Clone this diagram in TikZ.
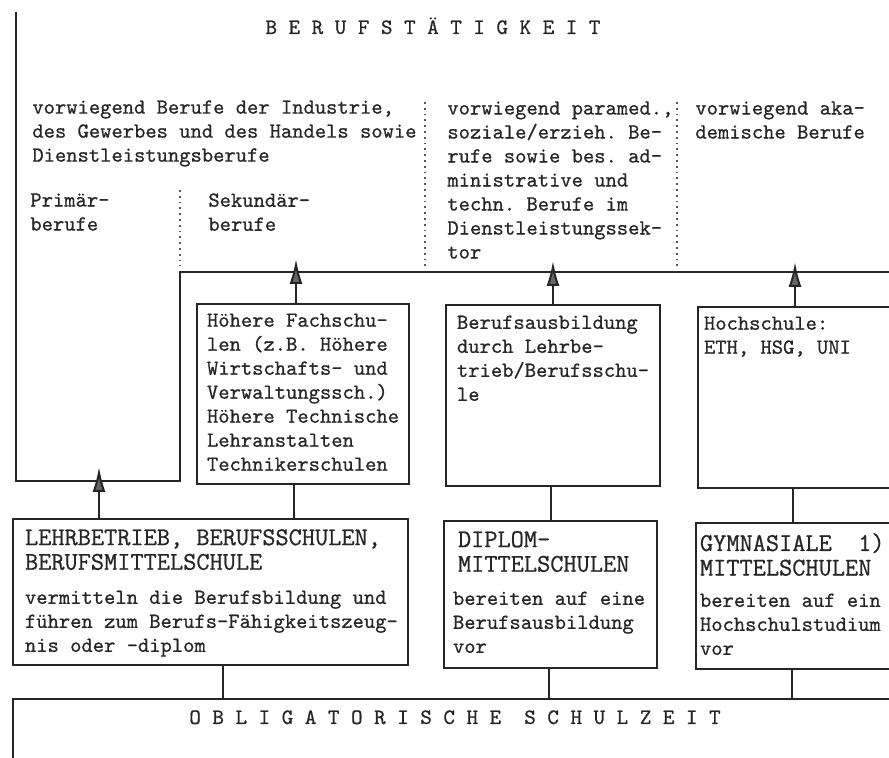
\documentclass[tikz,border=0pt]{standalone}
\usepackage{fontspec}
\setmonofont{Latin Modern Mono}[UprightFeatures={FakeBold=0.7}]
\usetikzlibrary{positioning,arrows.meta}
\newcommand{\grundschrift}{\ttfamily\fontsize{10.76}{12}\selectfont}
\newcommand{\kopfschrift}{\ttfamily\fontsize{12.8}{12.3}\selectfont}
\newcommand{\titelschrift}{\ttfamily\fontsize{11}{12}\selectfont}
\tikzset{
  linie/.style={line width=1pt, draw=black!85},
  kasten/.style={linie, rectangle, anchor=north west, inner sep=0pt},
  txt/.style={anchor=north west, inner sep=0pt, align=left, text=black!85,
    font=\grundschrift, execute at begin node=\strut},
  kopf/.style={txt, font=\kopfschrift},
  titel/.style={anchor=base, inner sep=0pt, text=black!85, font=\titelschrift},
  punkte/.style={line width=0.9pt, draw=black!65, dotted},
  pfeil/.style={linie, -{Latex[length=12.5pt,width=6.5pt,fill=black!60]}}
}
\begin{document}
\begin{tikzpicture}[x=0.5pt,y=-0.5pt]
  \useasboundingbox (0,0) rectangle (889,758);
  \clip (0,0) rectangle (889,758);
  % Berufstaetigkeit
  \node[titel] (beruf) at (433,34) {B E R U F S T Ä T I G K E I T};
  \draw[linie] (16,12) -- (16,481) -- (180,481) -- (180,272) -- (900,272);
  \node[txt] (industrie) at (32,100) {vorwiegend Berufe der Industrie,\\des Gewerbes und des Handels sowie\\Dienstleistungsberufe};
  \node[txt] (primaer) at (30,193) {Primär-\\berufe};
  \node[txt] (sekundaer) at (208,193) {Sekundär-\\berufe};
  \node[txt] (paramed) at (447,101) {vorwiegend paramed.,\\soziale/erzieh. Be-\\rufe sowie bes. ad-\\ministrative und\\techn. Berufe im\\Dienstleistungssek-\\tor};
  \node[txt] (akad) at (695,101) {vorwiegend aka-\\demische Berufe};
  \draw[punkte] (425,102) -- (425,266);
  \draw[punkte] (677,102) -- (677,270);
  \draw[punkte] (180,190) -- (180,266);
  % obere Kaesten
  \node[kasten, minimum width=106pt, minimum height=90pt] (hfs) at (196,303) {};
  \node[txt, below right=5.1pt and 5.3pt of hfs.north west] (hfs-txt) {Höhere Fachschu-\\len (z.B. Höhere\\Wirtschafts- und\\Verwaltungssch.)\\Höhere Technische\\Lehranstalten\\Technikerschulen};
  \node[kasten, minimum width=107pt, minimum height=90.5pt] (bab) at (445,304) {};
  \node[txt, below right=5.6pt and 5.8pt of bab.north west] (bab-txt) {Berufsausbildung\\durch Lehrbe-\\trieb/Berufsschu-\\le};
  \node[kasten, minimum width=98pt, minimum height=90.5pt] (hs) at (697,306) {};
  \node[txt, below right=5.1pt and 3.3pt of hs.north west] (hs-txt) {Hochschule:\\ETH, HSG, UNI};
  % untere Kaesten
  \node[kasten, minimum width=197.5pt, minimum height=73pt] (lb) at (12,518) {};
  \node[kopf, below right=5.4pt and 6.3pt of lb.north west] (lb-kopf) {LEHRBETRIEB, BERUFSSCHULEN,\\BERUFSMITTELSCHULE};
  \node[txt, below right=36.1pt and 6.3pt of lb.north west] (lb-txt) {vermitteln die Berufsbildung und\\führen zum Berufs-Fähigkeitszeug-\\nis oder -diplom};
  \node[kasten, minimum width=106.5pt, minimum height=73.5pt] (dms) at (443,520) {};
  \node[kopf, below right=5.4pt and 7.3pt of dms.north west] (dms-kopf) {DIPLOM-\\MITTELSCHULEN};
  \node[txt, below right=35.6pt and 4.8pt of dms.north west] (dms-txt) {bereiten auf eine\\Berufsausbildung\\vor};
  \node[kasten, minimum width=99pt, minimum height=73pt] (gms) at (695,522) {};
  \node[kopf, below right=5.4pt and 2.3pt of gms.north west] (gms-kopf) {GYMNASIALE~ 1)\\MITTELSCHULEN};
  \node[txt, below right=35.6pt and 2.3pt of gms.north west] (gms-txt) {bereiten auf ein\\Hochschulstudium\\vor};
  % obligatorische Schulzeit
  \node[kasten, minimum width=444pt, minimum height=51pt] (obl) at (12,698) {};
  \node[titel] (obl-txt) at (455,724) {O B L I G A T O R I S C H E~ S C H U L Z E I T};
  % Pfeile nach oben
  \coordinate (tA) at (99,467);
  \coordinate (tB) at (296,259);
  \coordinate (tC) at (553,261);
  \coordinate (tD) at (795,262);
  \draw[pfeil] (lb.north -| tA) -- (tA);
  \draw[pfeil] (hfs.north -| tB) -- (tB);
  \draw[pfeil] (bab.north -| tC) -- (tC);
  \draw[pfeil] (hs.north -| tD) -- (tD);
  % Verbindungen
  \coordinate (vA) at (294,0);
  \coordinate (vB) at (551,0);
  \coordinate (vC) at (793,0);
  \coordinate (vD) at (223,0);
  \coordinate (vE) at (549,0);
  \coordinate (vF) at (792,0);
  \draw[linie] (hfs.south -| vA) -- (lb.north -| vA);
  \draw[linie] (bab.south -| vB) -- (dms.north -| vB);
  \draw[linie] (hs.south -| vC) -- (gms.north -| vC);
  \draw[linie] (lb.south -| vD) -- (obl.north -| vD);
  \draw[linie] (dms.south -| vE) -- (obl.north -| vE);
  \draw[linie] (gms.south -| vF) -- (obl.north -| vF);
\end{tikzpicture}
\end{document}
